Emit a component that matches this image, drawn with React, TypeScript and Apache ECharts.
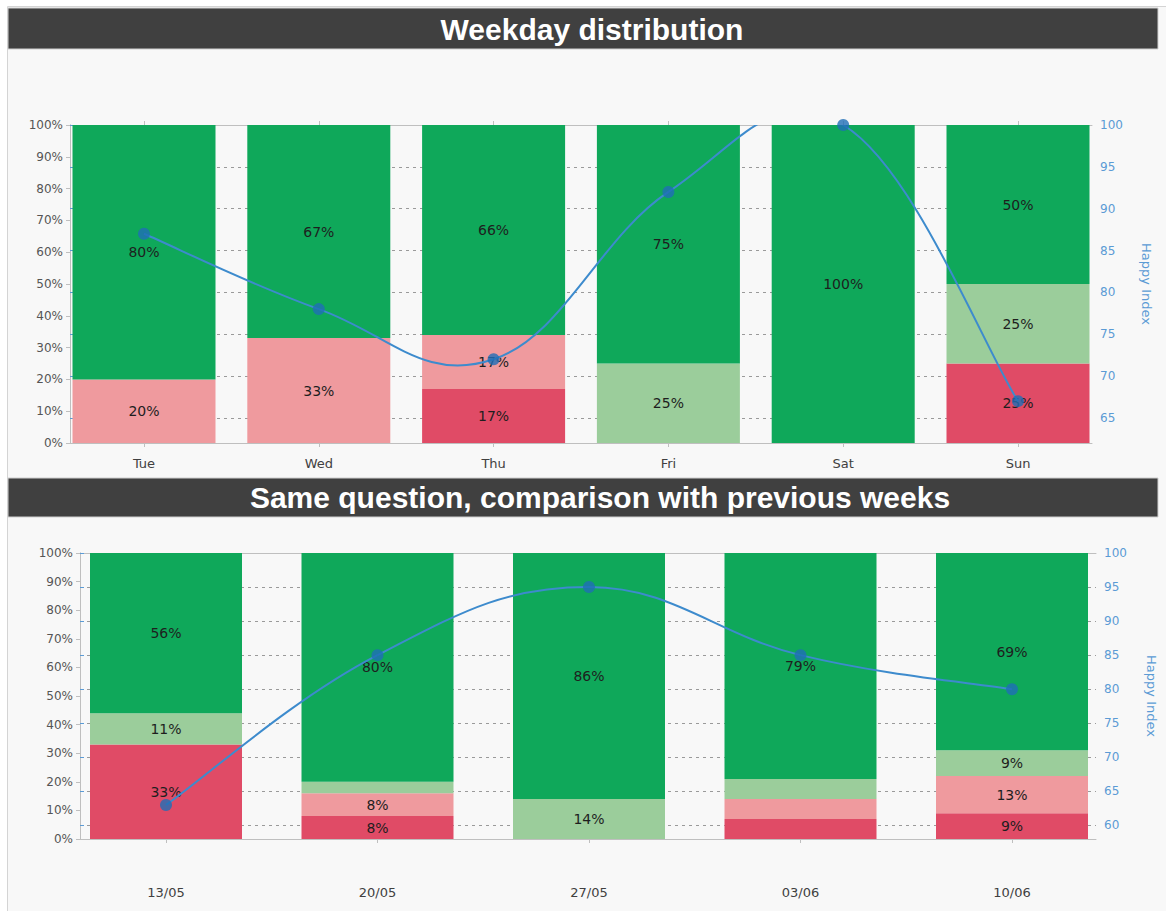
import { useEffect, useRef } from 'react';
import * as echarts from 'echarts';

// ---- Data: weekday distribution ----
const weekdays = ['Tue', 'Wed', 'Thu', 'Fri', 'Sat', 'Sun'];
const wdVeryUnhappy = [0, 0, 17, 0, 0, 25];
const wdUnhappy = [20, 33, 17, 0, 0, 0];
const wdHappy = [0, 0, 0, 25, 0, 25];
const wdVeryHappy = [80, 67, 66, 75, 100, 50];
const wdIndex = [87, 78, 72, 92, 100, 67];

// ---- Data: comparison with previous weeks ----
const weeks = ['13/05', '20/05', '27/05', '03/06', '10/06'];
const wkVeryUnhappy = [33, 8, 0, 7, 9];
const wkUnhappy = [0, 8, 0, 7, 13];
const wkHappy = [11, 4, 14, 7, 9];
const wkVeryHappy = [56, 80, 86, 79, 69];
const wkIndex = [63, 85, 95, 85, 80];

// ---- Axis ticks ----
const happyTicksTop = [65, 70, 75, 80, 85, 90, 95, 100];
const happyTicksBottom = [60, 65, 70, 75, 80, 85, 90, 95, 100];

const COLORS = ['#e04b66', '#ef9a9e', '#9bcd9b', '#0fa85a'];
const FONT = 'DejaVu Sans';
const AXIS_GREY = '#bfbfbf';
const BLUE = '#5b9bd5';
const LINE_BLUE = '#3d8bcd';
const TENSION = 0.2;

export default function App() {
  const ref = useRef<HTMLDivElement>(null);

  useEffect(() => {
    if (!ref.current) return;
    const chart = echarts.init(ref.current, undefined, { renderer: 'svg' });

    const label = {
      show: true,
      position: 'inside',
      fontFamily: FONT,
      fontSize: 14,
      color: '#1e1e1e',
      formatter: (p: any) => (p.value >= 7.5 ? p.value + '%' : ''),
    };

    const names = ['Very unhappy', 'Unhappy', 'Happy', 'Very happy'];

    const barSeries = (arrays: number[][], xi: number, yi: number, stack: string, width: number) =>
      arrays.map((arr, i) => ({
        type: 'bar',
        name: names[i],
        data: arr,
        stack,
        xAxisIndex: xi,
        yAxisIndex: yi,
        barWidth: width,
        itemStyle: { color: COLORS[i] },
        label,
      }));

    // Excel-like smoothed line (Catmull-Rom style Bezier), drawn through the axes' scales
    const curveSeries = (values: number[], xi: number, yi: number) => ({
      type: 'custom',
      name: 'Happy Index curve',
      xAxisIndex: xi,
      yAxisIndex: yi,
      clip: true,
      z: 4,
      silent: true,
      data: values.map((v, i) => [i, v]),
      renderItem: (params: any, api: any) => {
        const i = params.dataIndex;
        const n = values.length;
        if (i >= n - 1) return null;
        const pts = values.map((v, k) => api.coord([k, v]));
        const p0 = pts[Math.max(i - 1, 0)];
        const p1 = pts[i];
        const p2 = pts[i + 1];
        const p3 = pts[Math.min(i + 2, n - 1)];
        const c1 = [p1[0] + (p2[0] - p0[0]) * TENSION, p1[1] + (p2[1] - p0[1]) * TENSION];
        const c2 = [p2[0] - (p3[0] - p1[0]) * TENSION, p2[1] - (p3[1] - p1[1]) * TENSION];
        return {
          type: 'bezierCurve',
          shape: {
            x1: p1[0], y1: p1[1], x2: p2[0], y2: p2[1],
            cpx1: c1[0], cpy1: c1[1], cpx2: c2[0], cpy2: c2[1],
          },
          style: { stroke: LINE_BLUE, lineWidth: 2, fill: 'none' },
        };
      },
    });

    const markerSeries = (values: number[], xi: number, yi: number) => ({
      type: 'scatter',
      name: 'Happy Index',
      xAxisIndex: xi,
      yAxisIndex: yi,
      data: values,
      symbol: 'circle',
      symbolSize: 12,
      z: 5,
      clip: false,
      itemStyle: { color: '#1f6eb7' },
    });

    const catAxis = (data: string[], gridIndex: number, margin: number) => ({
      type: 'category',
      gridIndex,
      data,
      position: 'bottom',
      boundaryGap: true,
      axisLine: { show: false },
      axisTick: { show: true, alignWithLabel: true, length: 4, lineStyle: { color: AXIS_GREY } },
      axisLabel: { show: true, margin, fontFamily: FONT, fontSize: 13, color: '#404040' },
      splitLine: { show: false },
    });

    const frameAxis = (gridIndex: number, position: string) => ({
      type: 'value',
      gridIndex,
      position,
      min: 0,
      max: 1,
      axisLine: { show: true, onZero: false, lineStyle: { color: AXIS_GREY, width: 1 } },
      axisTick: { show: false },
      axisLabel: { show: false },
      splitLine: { show: false },
    });

    const pctAxis = (gridIndex: number) => ({
      type: 'value',
      gridIndex,
      position: 'left',
      min: 0,
      max: 100,
      interval: 10,
      axisLine: { show: true, lineStyle: { color: AXIS_GREY } },
      axisTick: { show: true, length: 4, lineStyle: { color: AXIS_GREY } },
      axisLabel: { fontFamily: FONT, fontSize: 12, color: '#555555', margin: 7, formatter: '{value}%' },
      splitLine: { show: false },
    });

    const happyAxis = (gridIndex: number, min: number, ticks: number[], nameGap: number) => ({
      type: 'value',
      gridIndex,
      position: 'right',
      min,
      max: 100,
      name: 'Happy Index',
      nameLocation: 'middle',
      nameRotate: -90,
      nameGap,
      nameTextStyle: { color: BLUE, fontFamily: FONT, fontSize: 13 },
      axisLine: { show: true, lineStyle: { color: AXIS_GREY } },
      axisTick: { show: true, length: 4, customValues: ticks, lineStyle: { color: BLUE } },
      axisLabel: { fontFamily: FONT, fontSize: 12, color: BLUE, margin: 8, customValues: ticks },
      splitLine: { show: true, lineStyle: { color: '#9a9a9a', type: [3, 4], width: 1 } },
    });

    const hiddenAxis = (gridIndex: number, min: number) => ({
      type: 'value',
      gridIndex,
      show: false,
      min,
      max: 100,
      splitLine: { show: false },
    });

    const option: any = {
      animation: false,
      backgroundColor: '#ffffff',
      graphic: [
        {
          type: 'rect',
          z: -10,
          shape: { x: 7.5, y: 6.5, width: 1170, height: 920 },
          style: { fill: '#f8f8f8', stroke: '#d4d4d4', lineWidth: 1 },
        },
        {
          type: 'rect',
          z: -5,
          shape: { x: 8, y: 8, width: 1150, height: 41 },
          style: { fill: '#404040', stroke: '#cfcfcf', lineWidth: 1 },
        },
        {
          type: 'text',
          z: 10,
          x: 592,
          y: 29,
          style: {
            text: 'Weekday distribution',
            fill: '#ffffff',
            font: 'bold 30px "Liberation Sans", Arial, sans-serif',
            align: 'center',
            verticalAlign: 'middle',
          },
        },
        {
          type: 'rect',
          z: -5,
          shape: { x: 8, y: 478, width: 1150, height: 39 },
          style: { fill: '#404040', stroke: '#cfcfcf', lineWidth: 1 },
        },
        {
          type: 'text',
          z: 10,
          x: 600,
          y: 497,
          style: {
            text: 'Same question, comparison with previous weeks',
            fill: '#ffffff',
            font: 'bold 30px "Liberation Sans", Arial, sans-serif',
            align: 'center',
            verticalAlign: 'middle',
          },
        },
      ],
      grid: [
        { left: 56.6, top: 125, width: 1048.8, height: 318 },
        { left: 70, top: 125, width: 1022, height: 318 },
        { left: 60.25, top: 553, width: 1057.5, height: 286 },
        { left: 80, top: 553, width: 1019, height: 286 },
      ],
      xAxis: [
        catAxis(weekdays, 0, 14),
        { ...catAxis(weekdays, 0, 14), position: 'top', axisLabel: { show: false } },
        frameAxis(1, 'bottom'),
        frameAxis(1, 'top'),
        catAxis(weeks, 2, 47),
        frameAxis(3, 'bottom'),
        frameAxis(3, 'top'),
      ],
      yAxis: [
        hiddenAxis(0, 0),
        hiddenAxis(0, 62),
        pctAxis(1),
        happyAxis(1, 62, happyTicksTop, 48),
        hiddenAxis(2, 0),
        hiddenAxis(2, 58),
        pctAxis(3),
        happyAxis(3, 58, happyTicksBottom, 49),
      ],
      series: [
        ...barSeries([wdVeryUnhappy, wdUnhappy, wdHappy, wdVeryHappy], 0, 0, 'wd', 143),
        curveSeries(wdIndex, 0, 1),
        markerSeries(wdIndex, 0, 1),
        ...barSeries([wkVeryUnhappy, wkUnhappy, wkHappy, wkVeryHappy], 4, 4, 'wk', 152),
        curveSeries(wkIndex, 4, 5),
        markerSeries(wkIndex, 4, 5),
      ],
    };

    chart.setOption(option);
    return () => chart.dispose();
  }, []);

  return (
    <div style={{ position: 'fixed', left: 0, top: 0, width: 1166, height: 911, background: '#fff' }}>
      <div ref={ref} style={{ width: 1166, height: 911 }} />
    </div>
  );
}
